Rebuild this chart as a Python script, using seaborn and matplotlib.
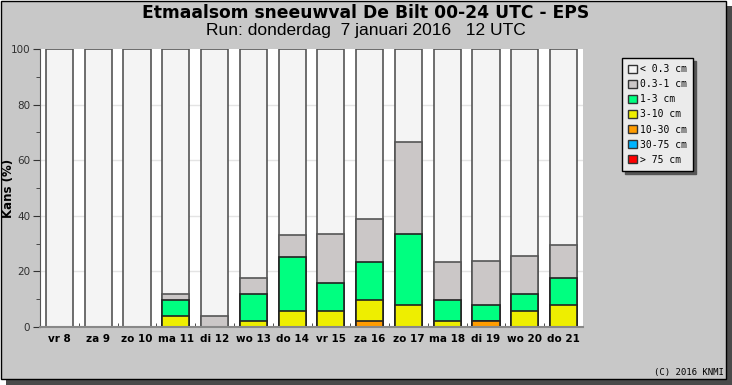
import numpy as np
import pandas as pd
import matplotlib
matplotlib.use("Agg")
import matplotlib.pyplot as plt
from matplotlib.patches import Patch, Rectangle
import seaborn as sns

# ensemble chances per day (%), one array per class
days = ['vr 8', 'za 9', 'zo 10', 'ma 11', 'di 12', 'wo 13', 'do 14',
        'vr 15', 'za 16', 'zo 17', 'ma 18', 'di 19', 'wo 20', 'do 21']
p_gt75 = [0, 0, 0, 0, 0, 0, 0, 0, 0, 0, 0, 0, 0, 0]
p_30_75 = [0, 0, 0, 0, 0, 0, 0, 0, 0, 0, 0, 0, 0, 0]
p_10_30 = [0, 0, 0, 0, 0, 0, 0, 0, 2.0, 0, 0, 2.0, 0, 0]
p_3_10 = [0, 0, 0, 3.9, 0, 2.0, 5.9, 5.9, 7.8, 7.8, 2.0, 0, 5.9, 7.8]
p_1_3 = [0, 0, 0, 5.9, 0, 9.8, 19.2, 9.8, 13.7, 25.5, 7.8, 5.9, 5.9, 9.8]
p_03_1 = [0, 0, 0, 2.0, 3.9, 5.9, 8.0, 17.6, 15.2, 33.3, 13.7, 15.7, 13.7, 11.8]

labels = ['< 0.3 cm', '0.3-1 cm', '1-3 cm', '3-10 cm', '10-30 cm', '30-75 cm', '> 75 cm']
colors = ['#f4f4f4', '#cbc7c7', '#00ff80', '#eeee00', '#ff9c00', '#00b4ff', '#ff0000']

BG = '#c8c8c8'

# stack bottom-up: > 75 at the bottom, < 0.3 on top
layers = [p_gt75, p_30_75, p_10_30, p_3_10, p_1_3, p_03_1]
cum = np.cumsum(np.array(layers), axis=0)
df = pd.DataFrame({'day': days})
df['c_lt03'] = 100.0
for name, row in zip(['c_gt75', 'c_30_75', 'c_10_30', 'c_3_10', 'c_1_3', 'c_03_1'], cum):
    df[name] = row

fig = plt.figure(figsize=(7.32, 3.85), dpi=100)
fig.patch.set_facecolor('white')
W, H = 732, 385
# drop shadow and panel
fig.patches.append(Rectangle((6 / W, 0), (W - 6) / W, (H - 6) / H, transform=fig.transFigure,
                             facecolor='#4a4a4a', edgecolor='none', zorder=-2))
fig.patches.append(Rectangle((0.5 / W, 6 / H), (W - 7) / W, (H - 6.5) / H, transform=fig.transFigure,
                             facecolor=BG, edgecolor='black', linewidth=1, zorder=-1))

ax = fig.add_axes([40 / W, 1 - 327 / H, 543 / W, 278 / H])
ax.set_facecolor('white')
for y in [20, 40, 60, 80]:
    ax.axhline(y, color='#e4e4e4', linewidth=1, zorder=0)

order = ['c_lt03', 'c_03_1', 'c_1_3', 'c_3_10', 'c_10_30', 'c_30_75', 'c_gt75']
for col, color in zip(order, colors):
    edge = '#555555' if col in ('c_lt03', 'c_03_1') else '#222222'
    sns.barplot(data=df, x='day', y=col, color=color, width=0.7, edgecolor=edge,
                linewidth=1.2, saturation=1, ax=ax, zorder=2)

ax.set_xlim(-0.5, 13.5)
ax.set_ylim(0, 100)
ax.set_xlabel('')
ax.set_ylabel('')
ax.set_yticks([0, 20, 40, 60, 80, 100])
ax.set_yticks([10, 30, 50, 70, 90], minor=True)
ax.tick_params(axis='y', which='major', length=5, pad=2, labelsize=7.5, labelcolor='#303030', color='#333333')
ax.tick_params(axis='y', which='minor', length=3, color='#333333')
ax.set_xticks(range(len(days)))
ax.set_xticklabels(days, fontsize=7.5, fontweight='bold')
ax.set_xticks(np.arange(len(days) - 1) + 0.5, minor=True)
ax.tick_params(axis='x', which='major', length=0, pad=5)
ax.tick_params(axis='x', which='minor', length=3, direction='in', color='#333333')
for s in ['top', 'right']:
    ax.spines[s].set_visible(False)
ax.spines['left'].set_color('#555555')
ax.spines['bottom'].set_color('#888888')
ax.spines['bottom'].set_linewidth(1.5)

fig.text(9 / W, 1 - 188 / H, 'Kans (%)', rotation=90, ha='center', va='center',
         fontsize=8.5, fontweight='bold')
fig.text(366 / W, 1 - 13 / H, 'Etmaalsom sneeuwval De Bilt 00-24 UTC - EPS',
         ha='center', va='center', fontsize=12.3, fontweight='bold')
fig.text(366 / W, 1 - 31 / H, 'Run: donderdag  7 januari 2016   12 UTC',
         ha='center', va='center', fontsize=12.5, family='Liberation Sans')
fig.text(724 / W, 1 - 372 / H, '(C) 2016 KNMI', ha='right', va='center',
         fontsize=6.5, family='DejaVu Sans Mono')

handles = [Patch(facecolor=c, edgecolor='#333333', linewidth=1) for c in colors]
leg = fig.legend(handles, labels, loc='upper left', bbox_to_anchor=(622 / W, 1 - 58 / H),
                 prop={'family': 'DejaVu Sans Mono', 'size': 7}, frameon=True, fancybox=False,
                 shadow={'color': '#555555', 'alpha': 1}, handlelength=0.9, handleheight=0.9,
                 handletextpad=0.3, labelspacing=0.52, borderpad=0.65, borderaxespad=0)
leg.get_frame().set_facecolor('#ebebeb')
leg.get_frame().set_edgecolor('black')
leg.get_frame().set_alpha(1)

plt.savefig('out.png', dpi=100, facecolor=fig.get_facecolor())
